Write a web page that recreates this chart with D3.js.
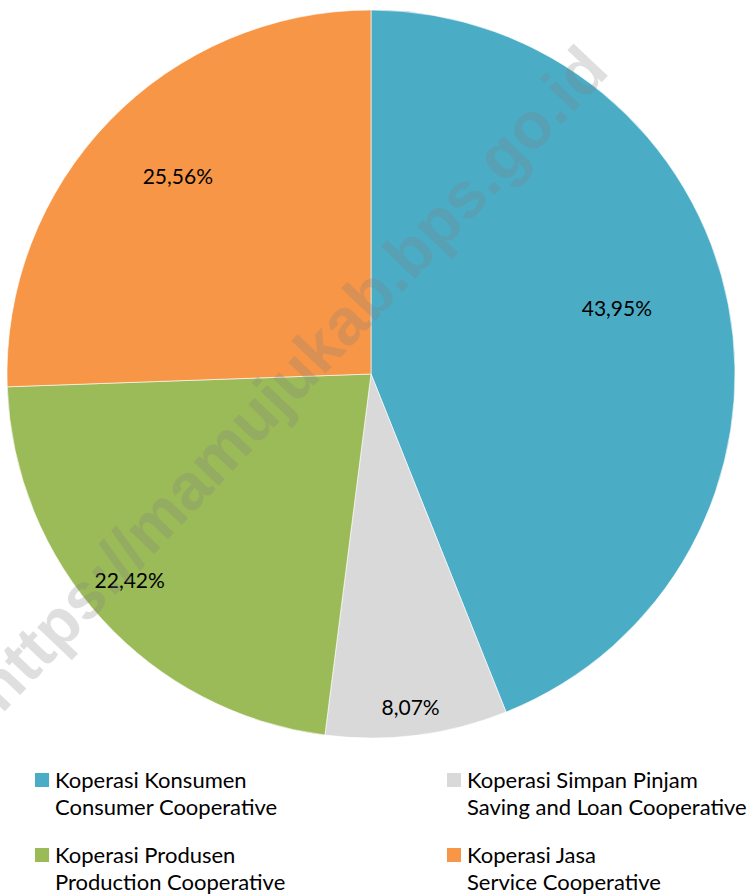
<!DOCTYPE html>
<html>
<head>
<meta charset="utf-8">
<script src="https://cdn.jsdelivr.net/npm/d3@7"></script>
<style>
  html, body { margin: 0; padding: 0; background: #fff; }
  svg { display: block; }
  text { font-family: Lato, "Open Sans", sans-serif; }
</style>
</head>
<body>
<svg id="chart" width="751" height="896"></svg>
<script>
// ---- data ----
const categoriesId = ["Koperasi Konsumen", "Koperasi Simpan Pinjam", "Koperasi Produsen", "Koperasi Jasa"];
const categoriesEn = ["Consumer Cooperative", "Saving and Loan Cooperative", "Production Cooperative", "Service Cooperative"];
const shares = [43.95, 8.07, 22.42, 25.56];
const percentLabels = ["43,95%", "8,07%", "22,42%", "25,56%"];

// ---- style / layout ----
const colors = ["#4BACC6", "#D9D9D9", "#9BBB59", "#F79646"];
const labelRadiusFactor = [0.70, 0.92, 0.87, 0.76];
const labelAngleShift = [-0.075, 0.008, 0.035, 0.03];
const legendOrder = [[0, 1], [2, 3]];

const svg = d3.select("#chart");
const cx = 371, cy = 374, R = 364;

const pie = d3.pie().sort(null).value(d => d).startAngle(0).endAngle(2 * Math.PI);
const arcs = pie(shares);
const arc = d3.arc().innerRadius(0).outerRadius(R);

const g = svg.append("g").attr("transform", `translate(${cx},${cy})`);
g.selectAll("path.slice")
  .data(arcs)
  .join("path")
  .attr("class", "slice")
  .attr("d", arc)
  .attr("fill", (d, i) => colors[i])
  .attr("stroke", "#fff")
  .attr("stroke-opacity", 0.6)
  .attr("stroke-width", 1);

// watermark
svg.append("text")
  .attr("transform", `translate(290,378) rotate(-46.5)`)
  .attr("text-anchor", "middle")
  .attr("dominant-baseline", "central")
  .style("font-family", "'Liberation Sans', Arial, sans-serif")
  .style("font-weight", "bold")
  .style("font-size", "65px")
  .attr("fill", "#7f7f7f")
  .attr("fill-opacity", 0.25)
  .text("https://mamujukab.bps.go.id");

// percent labels
g.selectAll("text.pct")
  .data(arcs)
  .join("text")
  .attr("class", "pct")
  .attr("transform", (d, i) => {
    const a = (d.startAngle + d.endAngle) / 2 + labelAngleShift[i];
    const r = R * labelRadiusFactor[i];
    return `translate(${r * Math.sin(a)},${-r * Math.cos(a)})`;
  })
  .attr("text-anchor", "middle")
  .attr("dominant-baseline", "central")
  .style("font-size", "21px")
  .attr("fill", "#000")
  .text((d, i) => percentLabels[i]);

// legend
const colX = [35, 447];
const rowY = [773, 848];
legendOrder.forEach((row, ri) => {
  row.forEach((idx, ci) => {
    const lg = svg.append("g").attr("transform", `translate(${colX[ci]},${rowY[ri]})`);
    lg.append("rect").attr("x", 0).attr("y", 0).attr("width", 14).attr("height", 14).attr("fill", colors[idx]);
    lg.append("text").attr("x", 20).attr("y", 15).style("font-size", "22px").attr("fill", "#000").text(categoriesId[idx]);
    lg.append("text").attr("x", 20).attr("y", 42).style("font-size", "22px").attr("fill", "#000").text(categoriesEn[idx]);
  });
});
</script>
</body>
</html>
